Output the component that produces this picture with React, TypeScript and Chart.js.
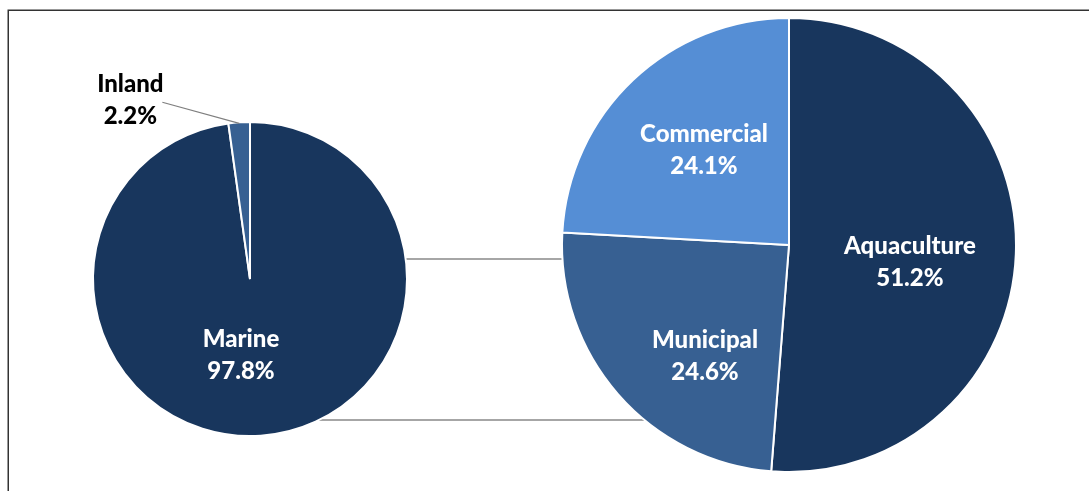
import React, { useEffect, useRef } from 'react';
import { Chart, registerables } from 'chart.js';

Chart.register(...registerables);

const W = 1089;
const H = 491;

// Primary pie
const primaryLabels = ['Marine', 'Inland'];
const primaryValues = [97.8, 2.2];
const primaryColors = ['#18365D', '#376092'];

// Secondary pie (breakdown of Marine)
const secondaryLabels = ['Aquaculture', 'Municipal', 'Commercial'];
const secondaryValues = [51.2, 24.6, 24.1];
const secondaryColors = ['#18365D', '#376092', '#558ED5'];

// label placement (style): angle clockwise from 12 o'clock, distance in radii
const primaryLabelAngle = [186.7, 326.2];
const primaryLabelDist = [0.49, 1.37];
const primaryLabelColor = ['#FFFFFF', '#000000'];
const secondaryLabelAngle = [98.2, 217, 318.3];
const secondaryLabelDist = [0.538, 0.615, 0.563];
const secondaryLabelColor = ['#FFFFFF', '#FFFFFF', '#FFFFFF'];

const FONT = '900 24px Lato, "Open Sans", sans-serif';

function makeLabelPlugin(
  id: string,
  angles: number[],
  dists: number[],
  colors: string[],
  leaderIndex: number
) {
  return {
    id,
    afterDatasetsDraw(chart: any) {
      const ctx = chart.ctx;
      const meta = chart.getDatasetMeta(0);
      const labels = chart.data.labels as string[];
      const values = chart.data.datasets[0].data as number[];
      ctx.save();
      ctx.font = FONT;
      ctx.textAlign = 'center';
      ctx.textBaseline = 'alphabetic';
      meta.data.forEach((arc: any, i: number) => {
        const p = arc.getProps(['x', 'y', 'outerRadius', 'startAngle', 'endAngle'], true);
        const a = (angles[i] * Math.PI) / 180;
        const cx = p.x + Math.sin(a) * p.outerRadius * dists[i];
        const cy = p.y - Math.cos(a) * p.outerRadius * dists[i];
        if (i === leaderIndex) {
          const mid = (p.startAngle + p.endAngle) / 2;
          const ex = p.x + Math.cos(mid) * (p.outerRadius - 1);
          const ey = p.y + Math.sin(mid) * (p.outerRadius - 1);
          ctx.beginPath();
          ctx.strokeStyle = '#7F7F7F';
          ctx.lineWidth = 1.2;
          ctx.moveTo(cx + 32, cy + 2);
          ctx.lineTo(ex, ey);
          ctx.stroke();
        }
        ctx.fillStyle = colors[i];
        ctx.fillText(labels[i], cx, cy - 8);
        ctx.fillText(values[i].toFixed(1) + '%', cx, cy + 24);
      });
      ctx.restore();
    },
  };
}

export default function App() {
  const leftRef = useRef<HTMLCanvasElement>(null);
  const rightRef = useRef<HTMLCanvasElement>(null);

  useEffect(() => {
    const right = new Chart(rightRef.current!, {
      type: 'pie',
      data: {
        labels: secondaryLabels,
        datasets: [
          {
            data: secondaryValues,
            backgroundColor: secondaryColors,
            borderColor: '#FFFFFF',
            borderWidth: 2,
          },
        ],
      },
      options: {
        responsive: false,
        animation: false,
        events: [],
        layout: { padding: { left: 561, right: 72, top: 17, bottom: 18 } },
        plugins: { legend: { display: false }, tooltip: { enabled: false } },
      },
      plugins: [
        makeLabelPlugin('secLabels', secondaryLabelAngle, secondaryLabelDist, secondaryLabelColor, -1),
      ],
    });

    const connectorPlugin = {
      id: 'connectors',
      beforeDatasetsDraw(chart: any) {
        const ctx = chart.ctx;
        // frame
        ctx.save();
        ctx.strokeStyle = '#333333';
        ctx.lineWidth = 1.5;
        ctx.beginPath();
        ctx.moveTo(8.25, H);
        ctx.lineTo(8.25, 10.25);
        ctx.lineTo(W, 10.25);
        ctx.stroke();

        const la = chart.getDatasetMeta(0).data[0].getProps(['x', 'y', 'outerRadius'], true);
        const ra = right.getDatasetMeta(0).data[0].getProps(['x', 'y', 'outerRadius'], true);
        ctx.strokeStyle = '#898989';
        ctx.lineWidth = 1.6;
        [-0.127, 0.898].forEach((f) => {
          const y = la.y + f * la.outerRadius;
          const x1 = la.x + Math.sqrt(Math.max(0, la.outerRadius ** 2 - (y - la.y) ** 2)) - 6;
          const x2 = ra.x - Math.sqrt(Math.max(0, ra.outerRadius ** 2 - (y - ra.y) ** 2)) + 4;
          ctx.beginPath();
          ctx.moveTo(x1, y);
          ctx.lineTo(x2, y);
          ctx.stroke();
        });
        ctx.restore();
      },
    };

    const left = new Chart(leftRef.current!, {
      type: 'pie',
      data: {
        labels: primaryLabels,
        datasets: [
          {
            data: primaryValues,
            backgroundColor: primaryColors,
            borderColor: '#FFFFFF',
            borderWidth: 2,
          },
        ],
      },
      options: {
        responsive: false,
        animation: false,
        events: [],
        layout: { padding: { left: 92, right: 681, top: 121, bottom: 54 } },
        plugins: { legend: { display: false }, tooltip: { enabled: false } },
      },
      plugins: [
        connectorPlugin,
        makeLabelPlugin('priLabels', primaryLabelAngle, primaryLabelDist, primaryLabelColor, 1),
      ],
    });

    return () => {
      left.destroy();
      right.destroy();
    };
  }, []);

  const canvasStyle: React.CSSProperties = {
    position: 'absolute',
    left: 0,
    top: 0,
    width: W,
    height: H,
  };

  return (
    <div style={{ position: 'absolute', left: 0, top: 0, width: W, height: H, background: '#FFFFFF', overflow: 'hidden' }}>
      <canvas ref={leftRef} width={W} height={H} style={{ ...canvasStyle, zIndex: 1 }} />
      <canvas ref={rightRef} width={W} height={H} style={{ ...canvasStyle, zIndex: 2 }} />
    </div>
  );
}
